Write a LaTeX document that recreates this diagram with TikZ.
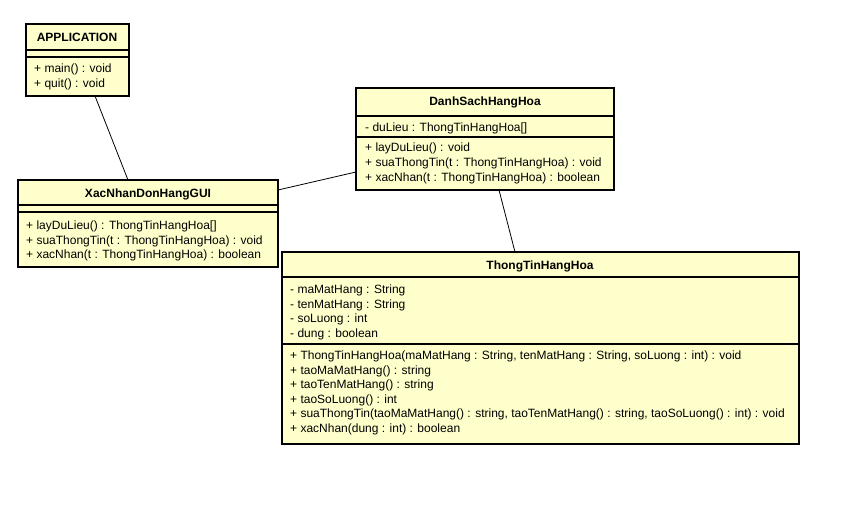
\documentclass[tikz,border=0pt]{standalone}
\usepackage{fontspec}
\setmainfont{Liberation Sans}
\usetikzlibrary{positioning, calc}
\definecolor{umlfill}{HTML}{FFFFCC}
\tikzstyle{classbox} = [rectangle, draw=black, line width=1.7pt, fill=umlfill, inner sep=0pt, outer sep=0pt, anchor=north west]
\tikzstyle{classname} = [font=\fontsize{12}{14}\selectfont\bfseries, inner sep=0pt, anchor=base]
\tikzstyle{member} = [font=\fontsize{12}{14}\selectfont, inner sep=0pt, anchor=base west]
\tikzstyle{divider} = [line width=1.1pt]
\tikzstyle{assoc} = [line width=0.8pt]
\begin{document}
\begin{tikzpicture}[x=1pt,y=-1pt]
      \useasboundingbox (0,0) rectangle (842,518);
      % class boxes
      \node (app) [classbox,minimum width=103pt,minimum height=72pt] at (26,24) {};
      \node (dsh) [classbox,minimum width=258pt,minimum height=102pt] at (356,88) {};
      \node (gui) [classbox,minimum width=260pt,minimum height=87pt] at (18,180) {};
      \node (ttt) [classbox,minimum width=517pt,minimum height=192pt] at (282,252) {};

      % compartments
      \draw [divider] (app.west |- 0,50) -- (app.east |- 0,50);
      \draw [divider] (app.west |- 0,57) -- (app.east |- 0,57);
      \draw [divider] (dsh.west |- 0,116) -- (dsh.east |- 0,116);
      \draw [divider] (dsh.west |- 0,137) -- (dsh.east |- 0,137);
      \draw [divider] (gui.west |- 0,205) -- (gui.east |- 0,205);
      \draw [divider] (gui.west |- 0,212) -- (gui.east |- 0,212);
      \draw [divider] (ttt.west |- 0,277) -- (ttt.east |- 0,277);
      \draw [divider] (ttt.west |- 0,344) -- (ttt.east |- 0,344);

      % APPLICATION
      \node (appn) [classname] at (77,41.5) {APPLICATION};
      \node (appo1) [member] at (34,72.5) {+ main() : void};
      \node (appo2) [member] at (34,87.5) {+ quit() : void};

      % DanhSachHangHoa
      \node (dshn) [classname] at (485,106) {DanhSachHangHoa};
      \node (dsha1) [member] at (365,131.5) {- duLieu : ThongTinHangHoa[]};
      \node (dsho1) [member] at (365,151.5) {+ layDuLieu() : void};
      \node (dsho2) [member] at (365,166.5) {+ suaThongTin(t : ThongTinHangHoa) : void};
      \node (dsho3) [member] at (365,181.5) {+ xacNhan(t : ThongTinHangHoa) : boolean};

      % XacNhanDonHangGUI
      \node (guin) [classname] at (148,198) {XacNhanDonHangGUI};
      \node (guio1) [member] at (26,229.5) {+ layDuLieu() : ThongTinHangHoa[]};
      \node (guio2) [member] at (26,244.5) {+ suaThongTin(t : ThongTinHangHoa) : void};
      \node (guio3) [member] at (26,259) {+ xacNhan(t : ThongTinHangHoa) : boolean};

      % ThongTinHangHoa
      \node (tttn) [classname] at (540,269.5) {ThongTinHangHoa};
      \node (ttta1) [member] at (290,293.5) {- maMatHang : String};
      \node (ttta2) [member] at (290,308) {- tenMatHang : String};
      \node (ttta3) [member] at (290,322.5) {- soLuong : int};
      \node (ttta4) [member] at (290,337.5) {- dung : boolean};
      \node (ttto1) [member] at (290,359.5) {+ ThongTinHangHoa(maMatHang : String, tenMatHang : String, soLuong : int) : void};
      \node (ttto2) [member] at (290,374) {+ taoMaMatHang() : string};
      \node (ttto3) [member] at (290,388.5) {+ taoTenMatHang() : string};
      \node (ttto4) [member] at (290,403) {+ taoSoLuong() : int};
      \node (ttto5) [member] at (290,417.5) {+ suaThongTin(taoMaMatHang() : string, taoTenMatHang() : string, taoSoLuong() : int) : void};
      \node (ttto6) [member] at (290,432) {+ xacNhan(dung : int) : boolean};

      % associations
      \draw [assoc] ([xshift=69pt]app.south west) -- ([xshift=110pt]gui.north west);
      \draw [assoc] ([yshift=18pt]dsh.south west) -- ([yshift=-10pt]gui.north east);
      \draw [assoc] ([xshift=143pt]dsh.south west) -- ([xshift=233pt]ttt.north west);
    \end{tikzpicture}
\end{document}
